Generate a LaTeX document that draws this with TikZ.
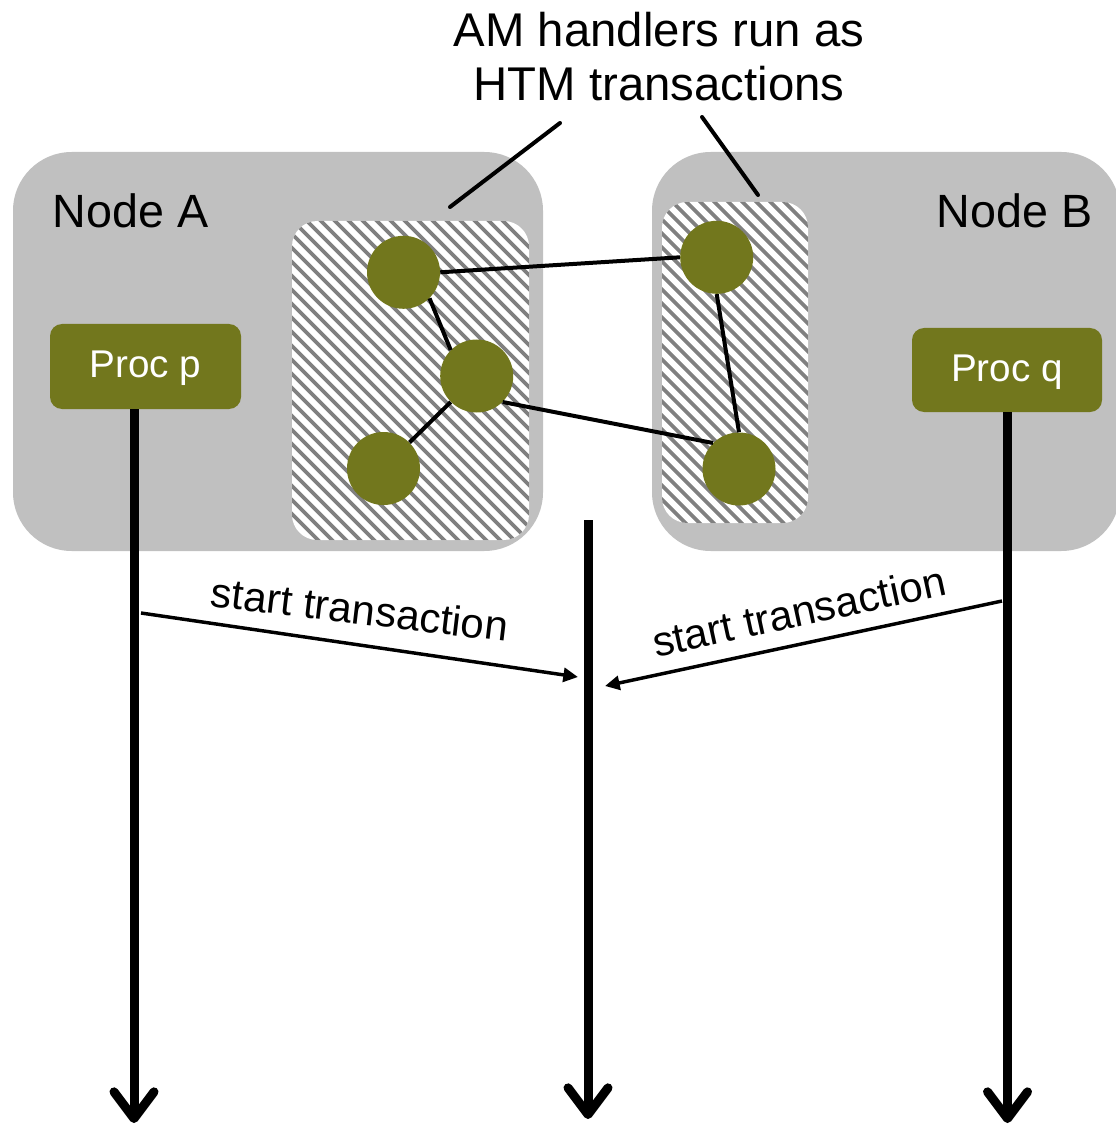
\documentclass[tikz,border=0pt]{standalone}
\usepackage{fontspec}
\setmainfont{Liberation Sans}
\usetikzlibrary{arrows.meta}
\definecolor{boxgray}{RGB}{192,192,192}
\definecolor{procgreen}{RGB}{114,119,29}
\definecolor{hatchgray}{RGB}{128,128,128}

\begin{document}
\begin{tikzpicture}[x=0.75pt,y=-0.75pt,
  machine/.style={rectangle, rounded corners=44pt, fill=boxgray, inner sep=0pt},
  htmzone/.style={rectangle, rounded corners=19pt, inner sep=0pt, fill=white,
    path picture={
      \foreach \c in {-420,-406,...,420}
        \draw[hatchgray, line width=2.7pt]
          ([shift={(\c-250,-250)}]path picture bounding box.center) -- ++(500,500);
    }},
  procbox/.style={rectangle, rounded corners=9pt, fill=procgreen, inner sep=0pt,
    text=white, font=\fontsize{29}{34}\selectfont, text height=16.7pt, text depth=0pt},
  handler/.style={circle, fill=procgreen, inner sep=0pt, minimum size={73*0.75pt}},
  link/.style={line width=3pt},
  timeline/.style={line width=6.75pt, -{Straight Barb[length=20pt,width=30pt,round]}},
  msg/.style={line width=2.6pt, -{Triangle[length=11pt,width=10.5pt]}},
  msglabel/.style={font=\fontsize{31.5}{36}\selectfont, anchor=base, inner sep=0pt},
  boxlabel/.style={font=\fontsize{35}{40}\selectfont, anchor=base, inner sep=0pt},
  callout/.style={line width=3pt, line cap=round}]

\useasboundingbox (0,0) rectangle (1115,1126);

% machines
\node[machine, minimum width={530*0.75pt}, minimum height={399*0.75pt}] (nodeA) at (278,351.5) {};
\node[machine, minimum width={468*0.75pt}, minimum height={399*0.75pt}] (nodeB) at (886,351.5) {};
\node[boxlabel] (labA) at (130.5,228) {Node A};
\node[boxlabel] (labB) at (1014.5,228) {Node B};

% hatched regions where handlers run
\node[htmzone, minimum width={237*0.75pt}, minimum height={319*0.75pt}] (zoneA) at (410.5,380.5) {};
\node[htmzone, minimum width={146*0.75pt}, minimum height={321*0.75pt}] (zoneB) at (735,362.5) {};

% handler graph
\node[handler] (h1) at (403.5,272.3) {};
\node[handler] (h2) at (476.7,376) {};
\node[handler] (h3) at (383.5,468.5) {};
\node[handler] (h4) at (716.7,257.3) {};
\node[handler] (h5) at (739,469) {};
\draw[link] (h1.east) -- (h4.west);
\draw[link] (h1.south east) -- (h2.north west);
\draw[link] (h2.south west) -- (h3.north east);
\draw[link] (h2.south east) -- (h5.north west);
\draw[link] (h4.south) -- (h5.north);

% processes
\node[procbox, minimum width={191*0.75pt}, minimum height={85*0.75pt}] (procp) at (145.5,366.5) {Proc p};
\node[procbox, minimum width={190*0.75pt}, minimum height={84*0.75pt}] (procq) at (1007,370) {Proc q};

% timelines
\coordinate (endA) at (134,1123);
\coordinate (topM) at (588,520);
\coordinate (endM) at (588,1119);
\coordinate (endB) at (1007.5,1123);
\draw[timeline] (procp.south -| endA) -- (endA);
\draw[timeline] (topM) -- (endM);
\draw[timeline] (procq.south -| endB) -- (endB);

% messages
\coordinate (sA) at (141,613);
\coordinate (tA) at (578,677);
\coordinate (sB) at (1002,601);
\coordinate (tB) at (605,686);
\draw[msg] (sA) -- (tA);
\draw[msg] (sB) -- (tB);
\node[msglabel, rotate=-6.8] (mA) at (358,624) {start transaction};
\node[msglabel, rotate=12.3] (mB) at (802,626) {start transaction};

% caption
\node[font=\fontsize{35.5}{40.5}\selectfont, align=center, inner sep=0pt, anchor=base] (cap) at (659,101)
  {AM handlers run as\\HTM transactions};
\coordinate (cA1) at (560,123);
\coordinate (cA2) at (450,207);
\coordinate (cB1) at (702,117);
\coordinate (cB2) at (758,195);
\draw[callout] (cA1) -- (cA2);
\draw[callout] (cB1) -- (cB2);
\end{tikzpicture}
\end{document}
